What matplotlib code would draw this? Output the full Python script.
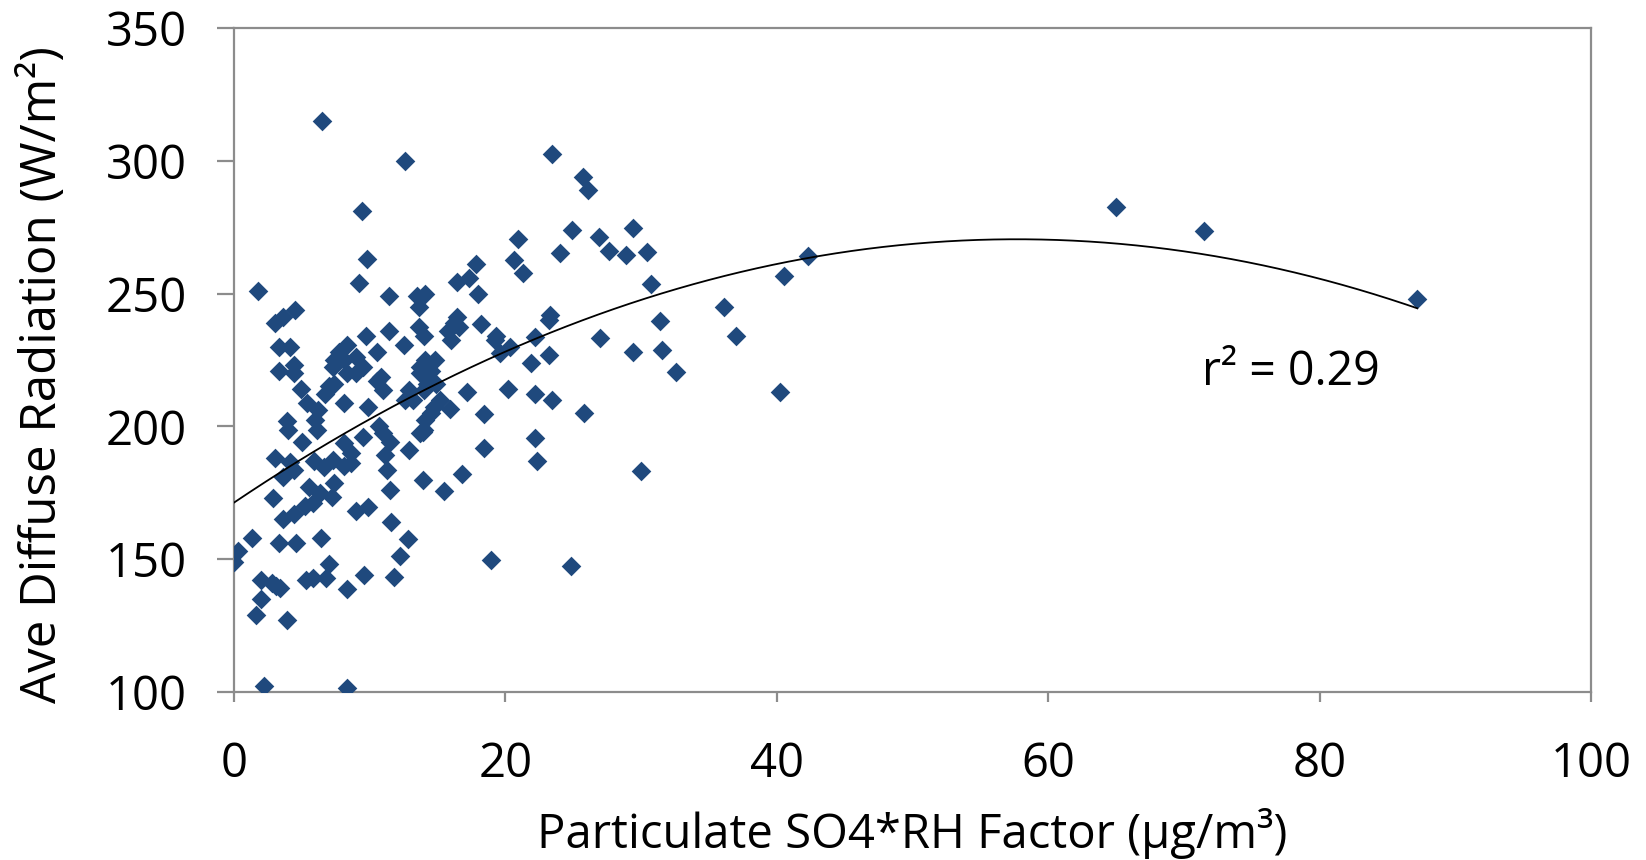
import numpy as np
import matplotlib
matplotlib.use("Agg")
import matplotlib.pyplot as plt

# particulate SO4*RH factor (ug/m3) and average diffuse radiation (W/m2)
so4_rh = [
    0.0, 0.3, 1.3, 2.0, 2.0, 1.6, 2.2, 2.8, 3.4, 3.1, 3.9, 3.3, 4.6, 1.8,
    2.9, 3.6, 4.4, 5.2, 5.8, 3.0, 4.1, 3.6, 4.4,
    5.0, 3.9, 4.0, 5.4, 6.0, 6.1, 4.9, 7.0, 6.7, 6.2,
    3.3, 4.4, 4.4, 3.3, 4.1, 3.0, 3.6, 4.5,
    5.9, 6.6, 8.1, 8.6, 5.5, 6.3, 7.2, 7.4,
    5.3, 5.8, 7.0, 6.8, 6.4, 8.3, 8.3, 9.6,
    6.5, 12.6, 9.4, 9.8, 9.2, 11.4, 13.5, 14.1, 13.6,
    11.4, 12.5, 13.6, 14.0, 9.7,
    8.3, 7.7, 8.1, 9.0, 10.5, 9.5, 10.8, 13.7, 14.1, 7.3, 8.3, 7.4,
    7.4, 8.1, 9.0, 10.5, 11.0, 9.9, 10.7, 11.0, 13.7, 14.2, 12.9, 12.6, 13.2,
    14.1, 13.7, 8.1, 8.6, 9.5, 11.5, 11.1, 12.9, 7.3,
    9.0, 9.9, 11.3, 11.5, 13.9, 11.6, 12.8, 12.2, 11.8, 13.9, 14.0,
    15.2, 15.9, 14.5, 14.7, 14.8, 14.5, 14.9, 14.0,
    16.2, 16.4, 15.8, 16.6, 16.0, 17.8, 17.3, 16.4, 18.0, 18.2,
    19.3, 20.3, 19.6, 19.2, 17.2, 18.4, 18.4, 20.2, 22.2, 23.4,
    22.2, 21.9, 23.2, 23.3, 23.2,
    20.9, 20.6, 21.3, 24.0, 24.9, 26.9, 29.4, 27.6, 28.9, 30.4, 30.7,
    23.4, 25.7, 26.1,
    31.4, 27.0, 29.4, 31.5, 32.6, 25.8, 22.2, 22.3, 30.0, 16.8, 15.5,
    18.9, 24.8,
    36.1, 37.0, 40.5, 42.3, 40.2, 65.0, 71.5, 87.2,
]
diffuse_rad = [
    149, 153, 158, 142, 135, 129, 102, 141, 139, 140, 127, 156, 156, 251,
    173, 165, 167, 170, 171, 188, 186.5, 181, 183.5,
    194, 202, 198.5, 208.7, 202.4, 198.6, 214, 215, 212, 206,
    221, 223, 220, 230, 230, 239, 241.3, 244,
    187, 184.5, 185, 186, 177, 175, 173.5, 178.5,
    142, 143, 148, 143, 158, 138.6, 101.3, 144,
    315, 300, 281, 263, 254, 249, 249, 250, 245,
    236, 230.5, 237.5, 234, 234,
    230.6, 228, 225, 226, 228, 222.5, 218.7, 222.5, 225, 222.5, 220, 225,
    216, 208.7, 220, 217, 213.7, 207.4, 200, 197.4, 220, 216, 213.7, 210, 210,
    202.4, 197.4, 193.6, 190, 196, 194, 189, 191, 187.3,
    168, 169.6, 183.4, 176, 179.8, 164, 157.6, 151, 143.3, 198, 198.6,
    210, 206.5, 205, 207.4, 225, 221, 216, 213.7,
    239, 241, 236, 237.5, 232.5, 261, 256, 254.5, 250, 238.7,
    234, 230, 227.5, 232.5, 213, 204.5, 191.7, 214, 212, 210,
    233.5, 223.7, 227, 241.9, 240,
    270.6, 262.7, 257.6, 265.2, 274, 271.2, 274.6, 266.2, 264.5, 265.8, 253.5,
    302.5, 293.8, 289,
    239.6, 233.2, 228.1, 228.8, 220.5, 205, 195.7, 187, 183.2, 182, 175.7,
    149.6, 147.4,
    245, 234, 256.6, 264, 213, 282.5, 273.5, 248,
]
r2_label = "r\u00b2 = 0.29"

x = np.array(so4_rh)
y = np.array(diffuse_rad)

# 2nd order polynomial trend, as in the original
coef = np.polyfit(x, y, 2)
xfit = np.linspace(x.min(), x.max(), 300)
yfit = np.polyval(coef, xfit)

plt.rcParams['font.family'] = ['Open Sans', 'DejaVu Sans']

fig = plt.figure(figsize=(16.46, 8.6), dpi=100)
ax = fig.add_axes([0.1422, 0.1957, 0.8244, 0.7715])

ax.scatter(x, y, marker='D', s=100, color='#1F497D', linewidths=0, zorder=3)
ax.plot(xfit, yfit, color='black', lw=1.3, zorder=4)

ax.text(71.3, 220.5, r2_label, fontsize=33.5, va='center', ha='left')

ax.set_xlim(0, 100)
ax.set_ylim(100, 350)
ax.set_xticks(np.arange(0, 101, 20))
ax.set_yticks(np.arange(100, 351, 50))

for s in ax.spines.values():
    s.set_color('#8c8c8c')
    s.set_linewidth(1.6)

ax.tick_params(axis='y', length=12, width=1.6, color='#8c8c8c', labelsize=34, pad=22)
ax.tick_params(axis='x', length=7, width=1.6, color='#8c8c8c', labelsize=34, pad=28)

ax.set_xlabel("Particulate SO4*RH Factor (\u00b5g/m\u00b3)", fontsize=34)
ax.set_ylabel("Ave Diffuse Radiation (W/m\u00b2)", fontsize=35.5, va='center')
ax.xaxis.set_label_coords(0.5, -0.176)
ax.yaxis.set_label_coords(-0.1406, 0.4785)

fig.savefig("out.png", dpi=100)
